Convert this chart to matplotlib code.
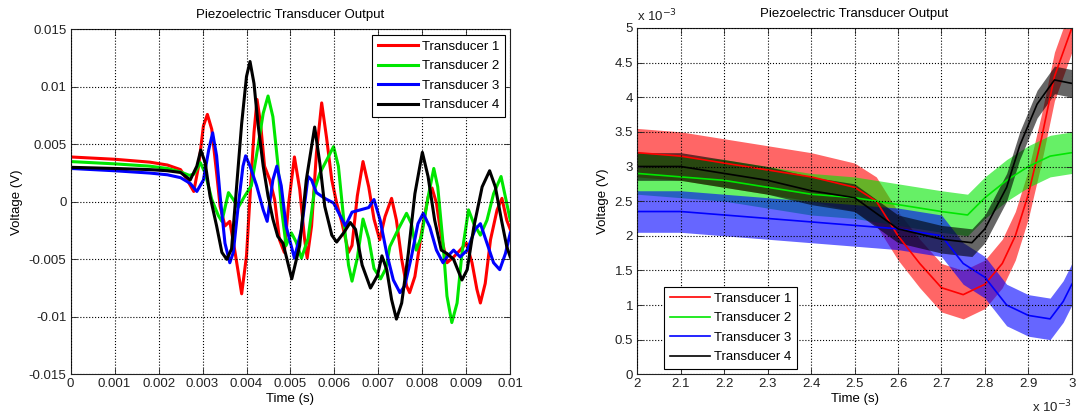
import matplotlib
matplotlib.use("Agg")
import matplotlib.pyplot as plt
from matplotlib.ticker import FuncFormatter, MultipleLocator
import numpy as np

plt.rcParams['font.family'] = ['Liberation Sans', 'DejaVu Sans']
plt.rcParams['font.size'] = 9.5

labels = ["Transducer 1", "Transducer 2", "Transducer 3", "Transducer 4"]
colors = ["#ff0000", "#00e600", "#0000ff", "#000000"]

# ---- full record, 0-10 ms (time in ms, voltage in mV)
t1 = [0, 1, 1.8, 2.2, 2.5, 2.65, 2.8, 2.91, 3.02, 3.11, 3.21, 3.32, 3.4, 3.51, 3.62, 3.74,
      3.89, 4.0, 4.09, 4.17, 4.24, 4.32, 4.41, 4.53, 4.64, 4.75, 4.86, 4.96, 5.09, 5.21,
      5.32, 5.38, 5.48, 5.59, 5.71, 5.82, 5.94, 6.05, 6.17, 6.32, 6.4, 6.52, 6.65, 6.78,
      6.9, 7.03, 7.15, 7.3, 7.41, 7.53, 7.64, 7.71, 7.83, 7.98, 8.13, 8.22, 8.32, 8.43,
      8.56, 8.71, 8.86, 9.0, 9.13, 9.24, 9.32, 9.43, 9.55, 9.7, 9.81, 9.92, 10.0]
v1 = [3.9, 3.7, 3.45, 3.2, 2.8, 1.9, 0.9, 3.1, 6.6, 7.6, 6.3, 2.5, -0.4, -2.1, -1.7, -4.4,
      -8.0, -4.7, 1.1, 6.0, 8.9, 6.8, 3.1, 1.9, 0.2, -3.3, -4.4, -0.1, 3.9, 1.1,
      -3.2, -4.9, -2.1, 4.2, 8.6, 5.6, 1.9, -0.1, -1.8, -4.4, -3.8, 0.5, 3.5, 1.3,
      -1.5, -3.3, -1.3, 0.3, -1.6, -5.0, -7.3, -7.9, -6.5, -2.7, 0.4, 1.2, -0.1, -3.0,
      -5.3, -4.8, -4.2, -3.6, -5.3, -7.6, -8.8, -7.1, -3.3, -0.7, 0.3, -1.6, -2.4]

t2 = [0, 1, 1.8, 2.2, 2.5, 2.7, 2.8, 2.95, 3.06, 3.21, 3.36, 3.44, 3.59, 3.7, 3.81, 3.96,
      4.11, 4.26, 4.38, 4.49, 4.6, 4.71, 4.79, 4.9, 5.02, 5.13, 5.25, 5.4, 5.55, 5.67,
      5.82, 5.98, 6.09, 6.21, 6.32, 6.4, 6.52, 6.65, 6.78, 6.9, 7.05, 7.17, 7.26, 7.45,
      7.64, 7.75, 7.86, 7.98, 8.13, 8.26, 8.35, 8.47, 8.56, 8.67, 8.79, 8.9, 9.05, 9.17,
      9.32, 9.47, 9.62, 9.79, 9.89, 10.0]
v2 = [3.5, 3.3, 3.1, 2.9, 2.6, 2.3, 2.4, 3.4, 2.5, 0.2, -1.2, -1.7, 0.8, 0.2, -0.5, 0.5,
      1.4, 4.8, 7.7, 9.2, 7.4, 3.4, -0.4, -3.8, -2.7, -3.5, -4.9, -3.2, 1.1, 2.5,
      3.6, 4.8, 3.1, -1.5, -5.5, -6.9, -4.9, -1.5, -3.2, -5.8, -6.7, -5.8, -3.9, -2.4,
      -1.0, -1.9, -4.2, -3.0, 0.4, 2.9, 1.3, -3.6, -8.2, -10.5, -8.8, -4.5, -0.7, -1.9,
      -2.9, -1.6, 0.7, 2.2, 0.4, -1.6]

t3 = [0, 1, 1.8, 2.2, 2.5, 2.72, 2.87, 3.02, 3.14, 3.23, 3.32, 3.4, 3.51, 3.62, 3.7, 3.81,
      3.92, 3.98, 4.08, 4.23, 4.38, 4.47, 4.6, 4.69, 4.79, 4.9, 5.09, 5.25, 5.4, 5.48,
      5.59, 5.78, 5.98, 6.17, 6.25, 6.4, 6.59, 6.78, 6.9, 7.04, 7.19, 7.34, 7.49, 7.6,
      7.75, 7.9, 8.02, 8.17, 8.32, 8.47, 8.56, 8.71, 8.86, 9.02, 9.2, 9.32, 9.47, 9.62,
      9.76, 9.89, 10.0]
v3 = [2.9, 2.7, 2.5, 2.35, 2.1, 1.6, 0.9, 1.9, 4.5, 6.0, 4.0, 0.5, -3.6, -5.3, -4.4, -0.4,
      3.1, 4.0, 3.1, 1.4, -0.7, -1.7, 1.9, 3.1, 1.4, -2.1, -4.9, -2.4, 2.2, 1.9,
      0.8, 0.3, -0.1, -1.5, -2.1, -0.9, -0.7, -0.5, 0.2, -1.6, -4.5, -6.8, -7.9, -7.3,
      -4.8, -1.9, -1.0, -2.2, -4.2, -5.3, -4.8, -4.2, -4.8, -4.2, -2.4, -1.9, -3.6, -5.3,
      -5.9, -4.5, -2.7]

t4 = [0, 1, 1.8, 2.2, 2.5, 2.72, 2.87, 2.96, 3.06, 3.17, 3.32, 3.44, 3.55, 3.66, 3.77, 3.89,
      4.0, 4.08, 4.17, 4.26, 4.38, 4.49, 4.6, 4.71, 4.83, 5.03, 5.21, 5.36, 5.55, 5.67,
      5.78, 5.94, 6.05, 6.21, 6.36, 6.48, 6.63, 6.82, 6.98, 7.08, 7.19, 7.3, 7.41, 7.53,
      7.68, 7.83, 8.0, 8.13, 8.28, 8.43, 8.56, 8.71, 8.9, 9.02, 9.17, 9.36, 9.53, 9.66,
      9.8, 9.92, 10.0]
v4 = [3.0, 2.9, 2.8, 2.7, 2.55, 1.9, 3.1, 4.5, 3.4, 0.5, -2.1, -4.4, -5.0, -4.1, 1.1, 6.8,
      10.9, 12.2, 10.3, 6.8, 3.1, 0.5, -1.5, -3.0, -3.6, -6.7, -3.8, 1.9, 6.5, 3.3,
      -0.4, -2.9, -3.5, -2.7, -1.8, -2.4, -5.5, -7.5, -6.4, -4.7, -5.9, -8.5, -10.2, -8.8,
      -4.5, 0.7, 4.3, 2.2, -1.6, -4.2, -4.5, -5.0, -6.8, -5.9, -2.2, 1.3, 2.7, 1.3,
      -1.6, -3.9, -4.8]

# ---- zoom on 2-3 ms: trend (mV) and noise half-width (mV)
zt1 = [2.0, 2.1, 2.2, 2.3, 2.4, 2.5, 2.55, 2.6, 2.65, 2.7, 2.75, 2.8, 2.84, 2.87, 2.9,
       2.93, 2.96, 3.0]
zv1 = [3.2, 3.15, 3.05, 2.95, 2.85, 2.7, 2.5, 2.0, 1.6, 1.25, 1.15, 1.3, 1.6, 2.0, 2.6,
       3.4, 4.3, 5.0]
zt2 = [2.0, 2.2, 2.4, 2.5, 2.6, 2.7, 2.76, 2.8, 2.85, 2.9, 2.95, 3.0]
zv2 = [2.9, 2.8, 2.6, 2.55, 2.45, 2.35, 2.3, 2.55, 2.8, 3.0, 3.15, 3.2]
zt3 = [2.0, 2.1, 2.2, 2.3, 2.4, 2.5, 2.6, 2.7, 2.75, 2.8, 2.85, 2.9, 2.95, 2.98, 3.0]
zv3 = [2.35, 2.35, 2.3, 2.25, 2.2, 2.15, 2.1, 2.0, 1.6, 1.4, 1.0, 0.85, 0.8, 1.05, 1.3]
zt4 = [2.0, 2.1, 2.2, 2.3, 2.4, 2.5, 2.6, 2.7, 2.77, 2.8, 2.85, 2.88, 2.92, 2.96, 3.0]
zv4 = [3.0, 3.0, 2.9, 2.8, 2.65, 2.55, 2.1, 1.95, 1.9, 2.1, 2.7, 3.3, 3.9, 4.25, 4.2]
noise = [0.35, 0.3, 0.3, 0.2]

full = [(t1, v1), (t2, v2), (t3, v3), (t4, v4)]
zoom = [(zt1, zv1), (zt2, zv2), (zt3, zv3), (zt4, zv4)]


def matlab_style(ax):
    ax.tick_params(direction='in', top=True, right=True, length=4, width=0.6,
                   labelsize=9.5, pad=3, colors='#222222')
    for s in ax.spines.values():
        s.set_linewidth(0.8)
        s.set_color('#222222')
    ax.grid(True, linestyle=':', color='black', linewidth=0.8)
    ax.set_axisbelow(False)


def add_legend(ax, **kw):
    leg = ax.legend(fancybox=False, edgecolor='black', framealpha=1, fontsize=9.5,
                    handlelength=3.0, labelspacing=0.55, borderpad=0.45,
                    handletextpad=0.3, **kw)
    leg.get_frame().set_linewidth(0.8)
    return leg


fig = plt.figure(figsize=(10.77, 4.17), dpi=100)

# left panel
ax1 = fig.add_axes([0.0656, 0.1024, 0.4082, 0.8273])
for (t, v), c, lab in zip(full, colors, labels):
    ax1.plot(np.array(t) * 1e-3, np.array(v) * 1e-3, color=c, lw=2.2, label=lab)
ax1.set_xlim(0, 0.01)
ax1.set_ylim(-0.015, 0.015)
ax1.xaxis.set_major_locator(MultipleLocator(0.001))
ax1.yaxis.set_major_locator(MultipleLocator(0.005))
ax1.xaxis.set_major_formatter(FuncFormatter(lambda x, p: '%g' % round(x, 6)))
ax1.yaxis.set_major_formatter(FuncFormatter(lambda y, p: '%g' % round(y, 6)))
matlab_style(ax1)
ax1.set_title("Piezoelectric Transducer Output", fontsize=9.5, pad=8)
ax1.set_xlabel("Time (s)", labelpad=2)
ax1.set_ylabel("Voltage (V)", labelpad=4)
add_legend(ax1, loc='upper right', borderaxespad=0.4)

# right panel (kept a few px inside the right edge so the last tick label shows)
ax2 = fig.add_axes([0.5917, 0.1024, 0.4035, 0.8305])
for (t, v), sp, c, lab in zip(zoom, noise, colors, labels):
    t = np.array(t) * 1e-3
    v = np.array(v) * 1e-3
    ax2.fill_between(t, v - sp * 1e-3, v + sp * 1e-3, color=c, alpha=0.6, lw=0)
    ax2.plot(t, v, color=c, lw=1.2, label=lab)
ax2.set_xlim(0.002, 0.003)
ax2.set_ylim(0, 0.005)
ax2.xaxis.set_major_locator(MultipleLocator(0.0001))
ax2.yaxis.set_major_locator(MultipleLocator(0.0005))
ax2.xaxis.set_major_formatter(FuncFormatter(lambda x, p: '%g' % round(x * 1e3, 4)))
ax2.yaxis.set_major_formatter(FuncFormatter(lambda y, p: '%g' % round(y * 1e3, 4)))
matlab_style(ax2)
ax2.set_title("Piezoelectric Transducer Output", fontsize=9.5, pad=8)
ax2.set_xlabel("Time (s)", labelpad=2)
ax2.set_ylabel("Voltage (V)", labelpad=4)
ax2.text(0.0, 1.01, r"x 10$^{-3}$", transform=ax2.transAxes, fontsize=9.5,
         ha='left', va='bottom', color='#222222')
ax2.text(1.0, -0.07, r"x 10$^{-3}$", transform=ax2.transAxes, fontsize=9.5,
         ha='right', va='top', color='#222222')
add_legend(ax2, loc='lower left', borderaxespad=0.0, bbox_to_anchor=(0.062, 0.015))

fig.savefig("out.png", dpi=100)
